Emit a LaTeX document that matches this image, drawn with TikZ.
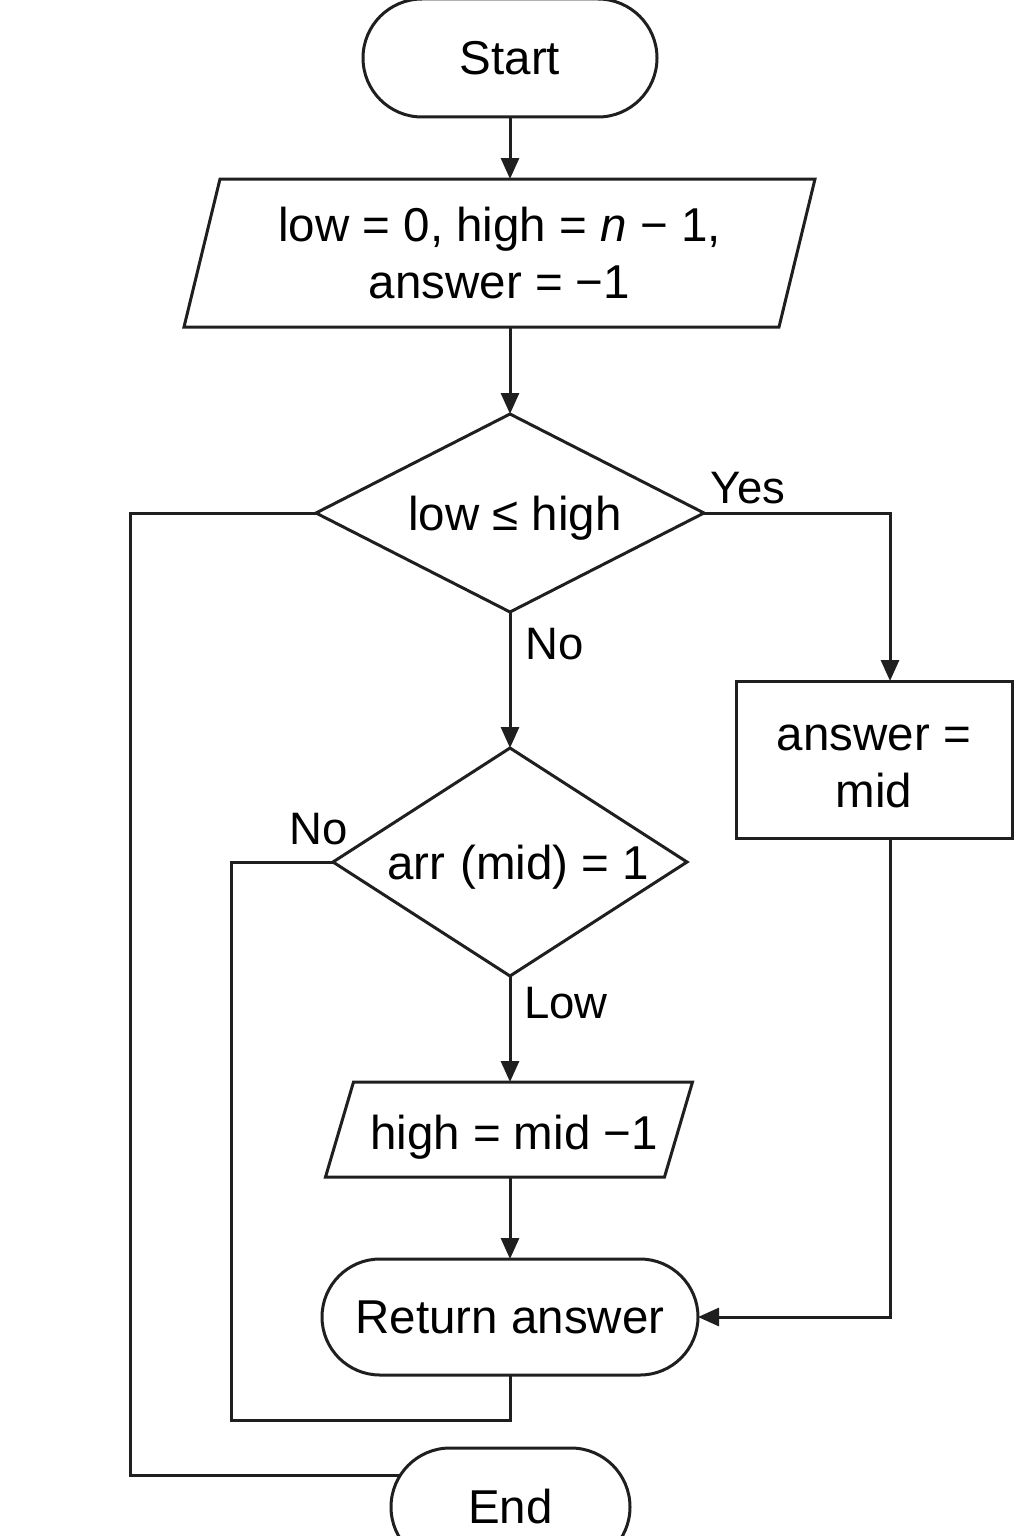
\documentclass[tikz,border=0pt]{standalone}
\usepackage{fontspec}
\setmainfont{Liberation Sans}
\usetikzlibrary{shapes.geometric,shapes.misc,arrows.meta,calc}
\begin{document}
\begin{tikzpicture}[x=1pt,y=-1pt,
  every node/.style={font=\fontsize{47.5}{57}\selectfont, inner sep=0pt, outer sep=0pt, text=black},
  lbl/.style={font=\fontsize{45.5}{52}\selectfont},
  line/.style={line width=3pt, draw=black!88, line join=miter},
  arr/.style={line, -{Triangle[length=21pt,width=18pt]}},
  term/.style={rounded rectangle, draw=black!88, line width=3pt, minimum height=118pt},
  boxs/.style={rectangle, draw=black!88, line width=3pt},
  dec/.style={diamond, draw=black!88, line width=3pt}
]
\useasboundingbox (0,0) rectangle (1024,1536);

% nodes
\node[term, minimum width=294pt] (start) at (510,58) {Start};

\node[minimum width=595pt, minimum height=148pt, align=center] (init) at (499.5,253)
  {low = 0, high = \textit{n} − 1,\\answer = −1};
\draw[line] ([xshift=18]init.north west) -- ([xshift=18]init.north east)
  -- ([xshift=-18]init.south east) -- ([xshift=-18]init.south west) -- cycle;

\node[dec, minimum width=388pt, minimum height=198pt] (d1) at (510,513) {};
\node[anchor=base] (t1) at (515,530) {low ≤ high};

\node[dec, minimum width=354pt, minimum height=228pt] (d2) at (510,862) {};
\node[anchor=base] (t2) at (518,879) {arr\hspace{0.32em}(mid) = 1};

\node[minimum width=339pt, minimum height=95pt] (high) at (509,1129.5) {};
\draw[line] ([xshift=14]high.north west) -- ([xshift=14]high.north east)
  -- ([xshift=-14]high.south east) -- ([xshift=-14]high.south west) -- cycle;
\node[anchor=base] (t3) at (514,1149) {high = mid −1};

\node[term, minimum width=376pt, minimum height=116pt] (ret) at (510,1317) {Return answer};

\node[boxs, minimum width=276pt, minimum height=157pt] (ans) at (874,759.5) {};
\node[align=center] (anst) at (874,766) {answer =\\mid};

\node[term, minimum width=239pt] (end) at (510.5,1507) {End};

% labels
\node[lbl] (yes) at (748,488) {Yes};
\node[lbl] (no1) at (555,644) {No};
\node[lbl] (no2) at (319,829) {No};
\node[lbl] (low) at (566,1003) {Low};

% connectors
\draw[arr] (start.south) -- (start.south |- init.north);
\draw[arr] (init.south -| d1.north) -- (d1.north);
\draw[arr] (d1.south) -- (d2.north);
\draw[arr] (d2.south) -- (d2.south |- high.north);
\draw[arr] (high.south -| ret.north) -- (ret.north);
\draw[arr] (d1.east) -| ([xshift=16]ans.north);
\draw[arr] ([xshift=16]ans.south) |- (ret.east);

\coordinate (lc) at (130,513);
\draw[line] (d1.west) -- (lc) |- (end.164);

\coordinate (ic) at (231,1420);
\draw[line] (d2.west) -| (ic) -| (ret.south);
\end{tikzpicture}
\end{document}
